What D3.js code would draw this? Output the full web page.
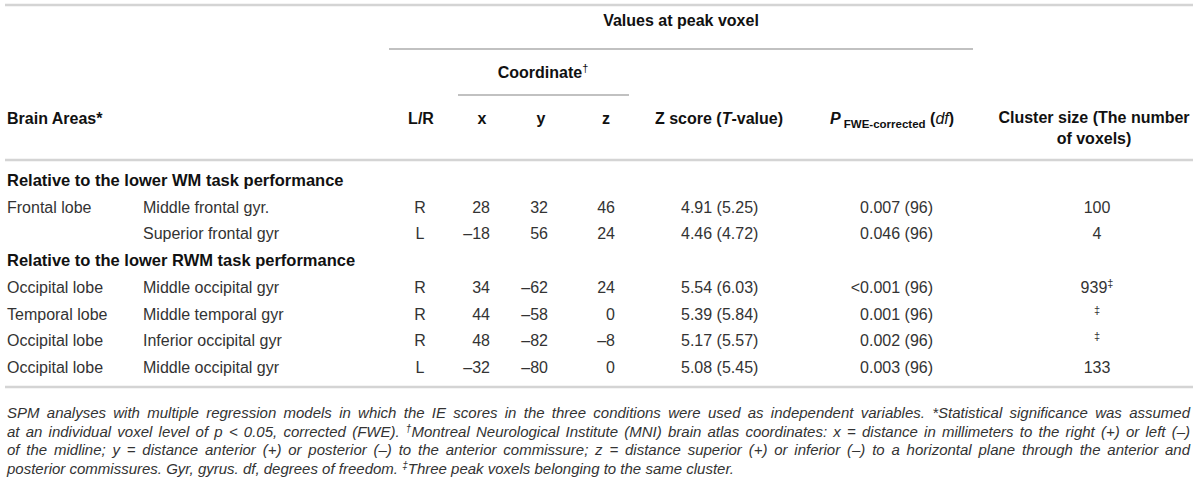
<!DOCTYPE html>
<html>
<head>
<meta charset="utf-8">
<script src="https://cdn.jsdelivr.net/npm/d3@7"></script>
<style>
	body { margin: 0; background: #fff; }
	text { font-family: "Liberation Sans", Arial, Helvetica, sans-serif; }
</style>
</head>
<body>
<script>
// table values
var sections = ["Relative to the lower WM task performance", "Relative to the lower RWM task performance"];
var sectionOf = [0, 0, 1, 1, 1, 1];
var lobes = ["Frontal lobe", "", "Occipital lobe", "Temporal lobe", "Occipital lobe", "Occipital lobe"];
var gyri = ["Middle frontal gyr.", "Superior frontal gyr", "Middle occipital gyr", "Middle temporal gyr", "Inferior occipital gyr", "Middle occipital gyr"];
var sides = ["R", "L", "R", "R", "R", "L"];
var coordX = [28, -18, 34, 44, 48, -32];
var coordY = [32, 56, -62, -58, -82, -80];
var coordZ = [46, 24, 24, 0, -8, 0];
var zScores = ["4.91", "4.46", "5.54", "5.39", "5.17", "5.08"];
var tValues = ["5.25", "4.72", "6.03", "5.84", "5.57", "5.45"];
var pValues = ["0.007", "0.046", "<0.001", "0.001", "0.002", "0.003"];
var dfs = [96, 96, 96, 96, 96, 96];
var clusterSizes = ["100", "4", "939", "", "", "133"];
var clusterMarks = ["", "", "\u2021", "\u2021", "\u2021", ""];

// footnote lines, each a list of [text, style]
var footnotes = [
	[["SPM analyses with multiple regression models in which the IE scores in the three conditions were used as independent variables. *Statistical significance was assumed", ""]],
	[["at an individual voxel level of p < 0.05, corrected (FWE). ", ""], ["\u2020", "sup"], ["Montreal Neurological Institute (MNI) brain atlas coordinates: x = distance in millimeters to the right (+) or left (\u2013)", ""]],
	[["of the midline; y = distance anterior (+) or posterior (\u2013) to the anterior commissure; z = distance superior (+) or inferior (\u2013) to a horizontal plane through the anterior and", ""]],
	[["posterior commissures. Gyr, gyrus. df, degrees of freedom. ", ""], ["\u2021", "sup"], ["Three peak voxels belonging to the same cluster.", ""]]
];

var width = 1200, height = 481;
var left = 7, ruleX0 = 5, ruleX1 = 1193, noteWidth = 1183;
var col = {gyrus: 143, side: 420, x: 490, y: 548, z: 615, zs: 681, p: 933, cluster: 1097};
var head = {side: 421, x: 482, y: 541, z: 606, zs: 719, p: 892, cluster: 1094};
var boldColor = "#111", textColor = "#333";

var svg = d3.select("body").append("svg")
	.attr("width", width)
	.attr("height", height);

function rule(x0, x1, y, w, c) {
	svg.append("line")
		.attr("x1", x0).attr("x2", x1)
		.attr("y1", y).attr("y2", y)
		.attr("stroke", c)
		.attr("stroke-width", w);
}

function label(x, y, anchor, bold) {
	return svg.append("text")
		.attr("x", x)
		.attr("y", y)
		.attr("text-anchor", anchor)
		.attr("fill", bold ? boldColor : textColor)
		.style("font-size", "16px")
		.style("font-weight", bold ? "bold" : "normal");
}

function minus(v) {
	return v < 0 ? "\u2013" + Math.abs(v) : "" + v;
}

// rules
rule(ruleX0, ruleX1, 5, 2.5, "#d4d4d4");
rule(389, 973, 49, 1.3, "#adadad");
rule(458, 629, 95, 1.3, "#adadad");
rule(ruleX0, ruleX1, 160, 2.5, "#d4d4d4");
rule(ruleX0, ruleX1, 387, 2.5, "#d4d4d4");

// header
var hb = 6;
label(681, 20 + hb, "middle", true).text("Values at peak voxel");
var coord = label(543, 72 + hb, "middle", true);
coord.append("tspan").text("Coordinate");
coord.append("tspan").attr("dy", -6).style("font-size", "11px").style("font-weight", "normal").text("\u2020");

label(left, 118 + hb, "start", true).text("Brain Areas*");
label(head.side, 118 + hb, "middle", true).text("L/R");
label(head.x, 118 + hb, "middle", true).text("x");
label(head.y, 118 + hb, "middle", true).text("y");
label(head.z, 118 + hb, "middle", true).text("z");

var zh = label(head.zs, 118 + hb, "middle", true);
zh.append("tspan").text("Z score (");
zh.append("tspan").style("font-style", "italic").text("T");
zh.append("tspan").text("-value)");

var ph = label(head.p, 118 + hb, "middle", true);
ph.append("tspan").style("font-style", "italic").text("P");
ph.append("tspan").attr("dy", 4).style("font-size", "11.5px").text(" FWE-corrected");
ph.append("tspan").attr("dy", -4).text(" (");
ph.append("tspan").style("font-style", "italic").style("font-weight", "normal").text("df");
ph.append("tspan").text(")");

label(head.cluster, 117 + hb, "middle", true).text("Cluster size (The number");
label(head.cluster, 138 + hb, "middle", true).text("of voxels)");

// body lines: section titles and data rows share one vertical scale
var lines = [];
var last = -1;
for (var i = 0; i < gyri.length; i++) {
	if (sectionOf[i] != last) {
		lines.push({type: "section", s: sectionOf[i]});
		last = sectionOf[i];
	}
	lines.push({type: "row", r: i});
}

var rowY = d3.scaleLinear()
	.domain([0, lines.length - 1])
	.range([180, 367]);

var rows = svg.selectAll("g.line")
	.data(lines)
	.enter().append("g")
	.attr("class", "line")
	.attr("transform", function(d, i) {
		return "translate(0," + (rowY(i) + 6) + ")";
	});

rows.filter(function(d) { return d.type == "section"; })
	.append("text")
	.attr("x", left)
	.attr("fill", boldColor)
	.style("font-size", "16.5px")
	.style("font-weight", "bold")
	.text(function(d) { return sections[d.s]; });

var dataRows = rows.filter(function(d) { return d.type == "row"; });

var cells = [
	{x: left, anchor: "start", f: function(r) { return lobes[r]; }},
	{x: col.gyrus, anchor: "start", f: function(r) { return gyri[r]; }},
	{x: col.side, anchor: "middle", f: function(r) { return sides[r]; }},
	{x: col.x, anchor: "end", f: function(r) { return minus(coordX[r]); }},
	{x: col.y, anchor: "end", f: function(r) { return minus(coordY[r]); }},
	{x: col.z, anchor: "end", f: function(r) { return minus(coordZ[r]); }},
	{x: col.zs, anchor: "start", f: function(r) { return zScores[r] + " (" + tValues[r] + ")"; }},
	{x: col.p, anchor: "end", f: function(r) { return pValues[r] + " (" + dfs[r] + ")"; }}
];

cells.forEach(function(c) {
	dataRows.append("text")
		.attr("x", c.x)
		.attr("text-anchor", c.anchor)
		.attr("fill", textColor)
		.style("font-size", "16px")
		.text(function(d) { return c.f(d.r); });
});

// cluster size with the double dagger raised
var cl = dataRows.append("text")
	.attr("x", col.cluster)
	.attr("text-anchor", "middle")
	.attr("fill", textColor)
	.style("font-size", "16px");
cl.append("tspan").text(function(d) { return clusterSizes[d.r]; });
cl.append("tspan")
	.attr("dy", -6)
	.style("font-size", "11px")
	.text(function(d) { return clusterMarks[d.r]; });

// footnotes, the first three lines justified
var noteY = d3.scaleLinear().domain([0, footnotes.length - 1]).range([408, 464]);

footnotes.forEach(function(segs, i) {
	var t = svg.append("text")
		.attr("x", left)
		.attr("y", noteY(i) + 5)
		.attr("fill", textColor)
		.style("font-size", "15px")
		.style("font-style", "italic");
	segs.forEach(function(s) {
		if (s[1] == "sup") {
			t.append("tspan").attr("dy", -5).style("font-size", "10px").text(s[0]);
		} else {
			t.append("tspan").attr("dy", t.selectAll("tspan").size() ? 5 : 0).text(s[0]);
		}
	});
	if (i < footnotes.length - 1) {
		var natural = t.node().getComputedTextLength();
		var spaces = segs.map(function(s) { return s[0]; }).join("").split(" ").length - 1;
		var extra = (noteWidth - natural) / spaces;
		t.style("word-spacing", extra + "px");
	}
});
</script>
</body>
</html>
